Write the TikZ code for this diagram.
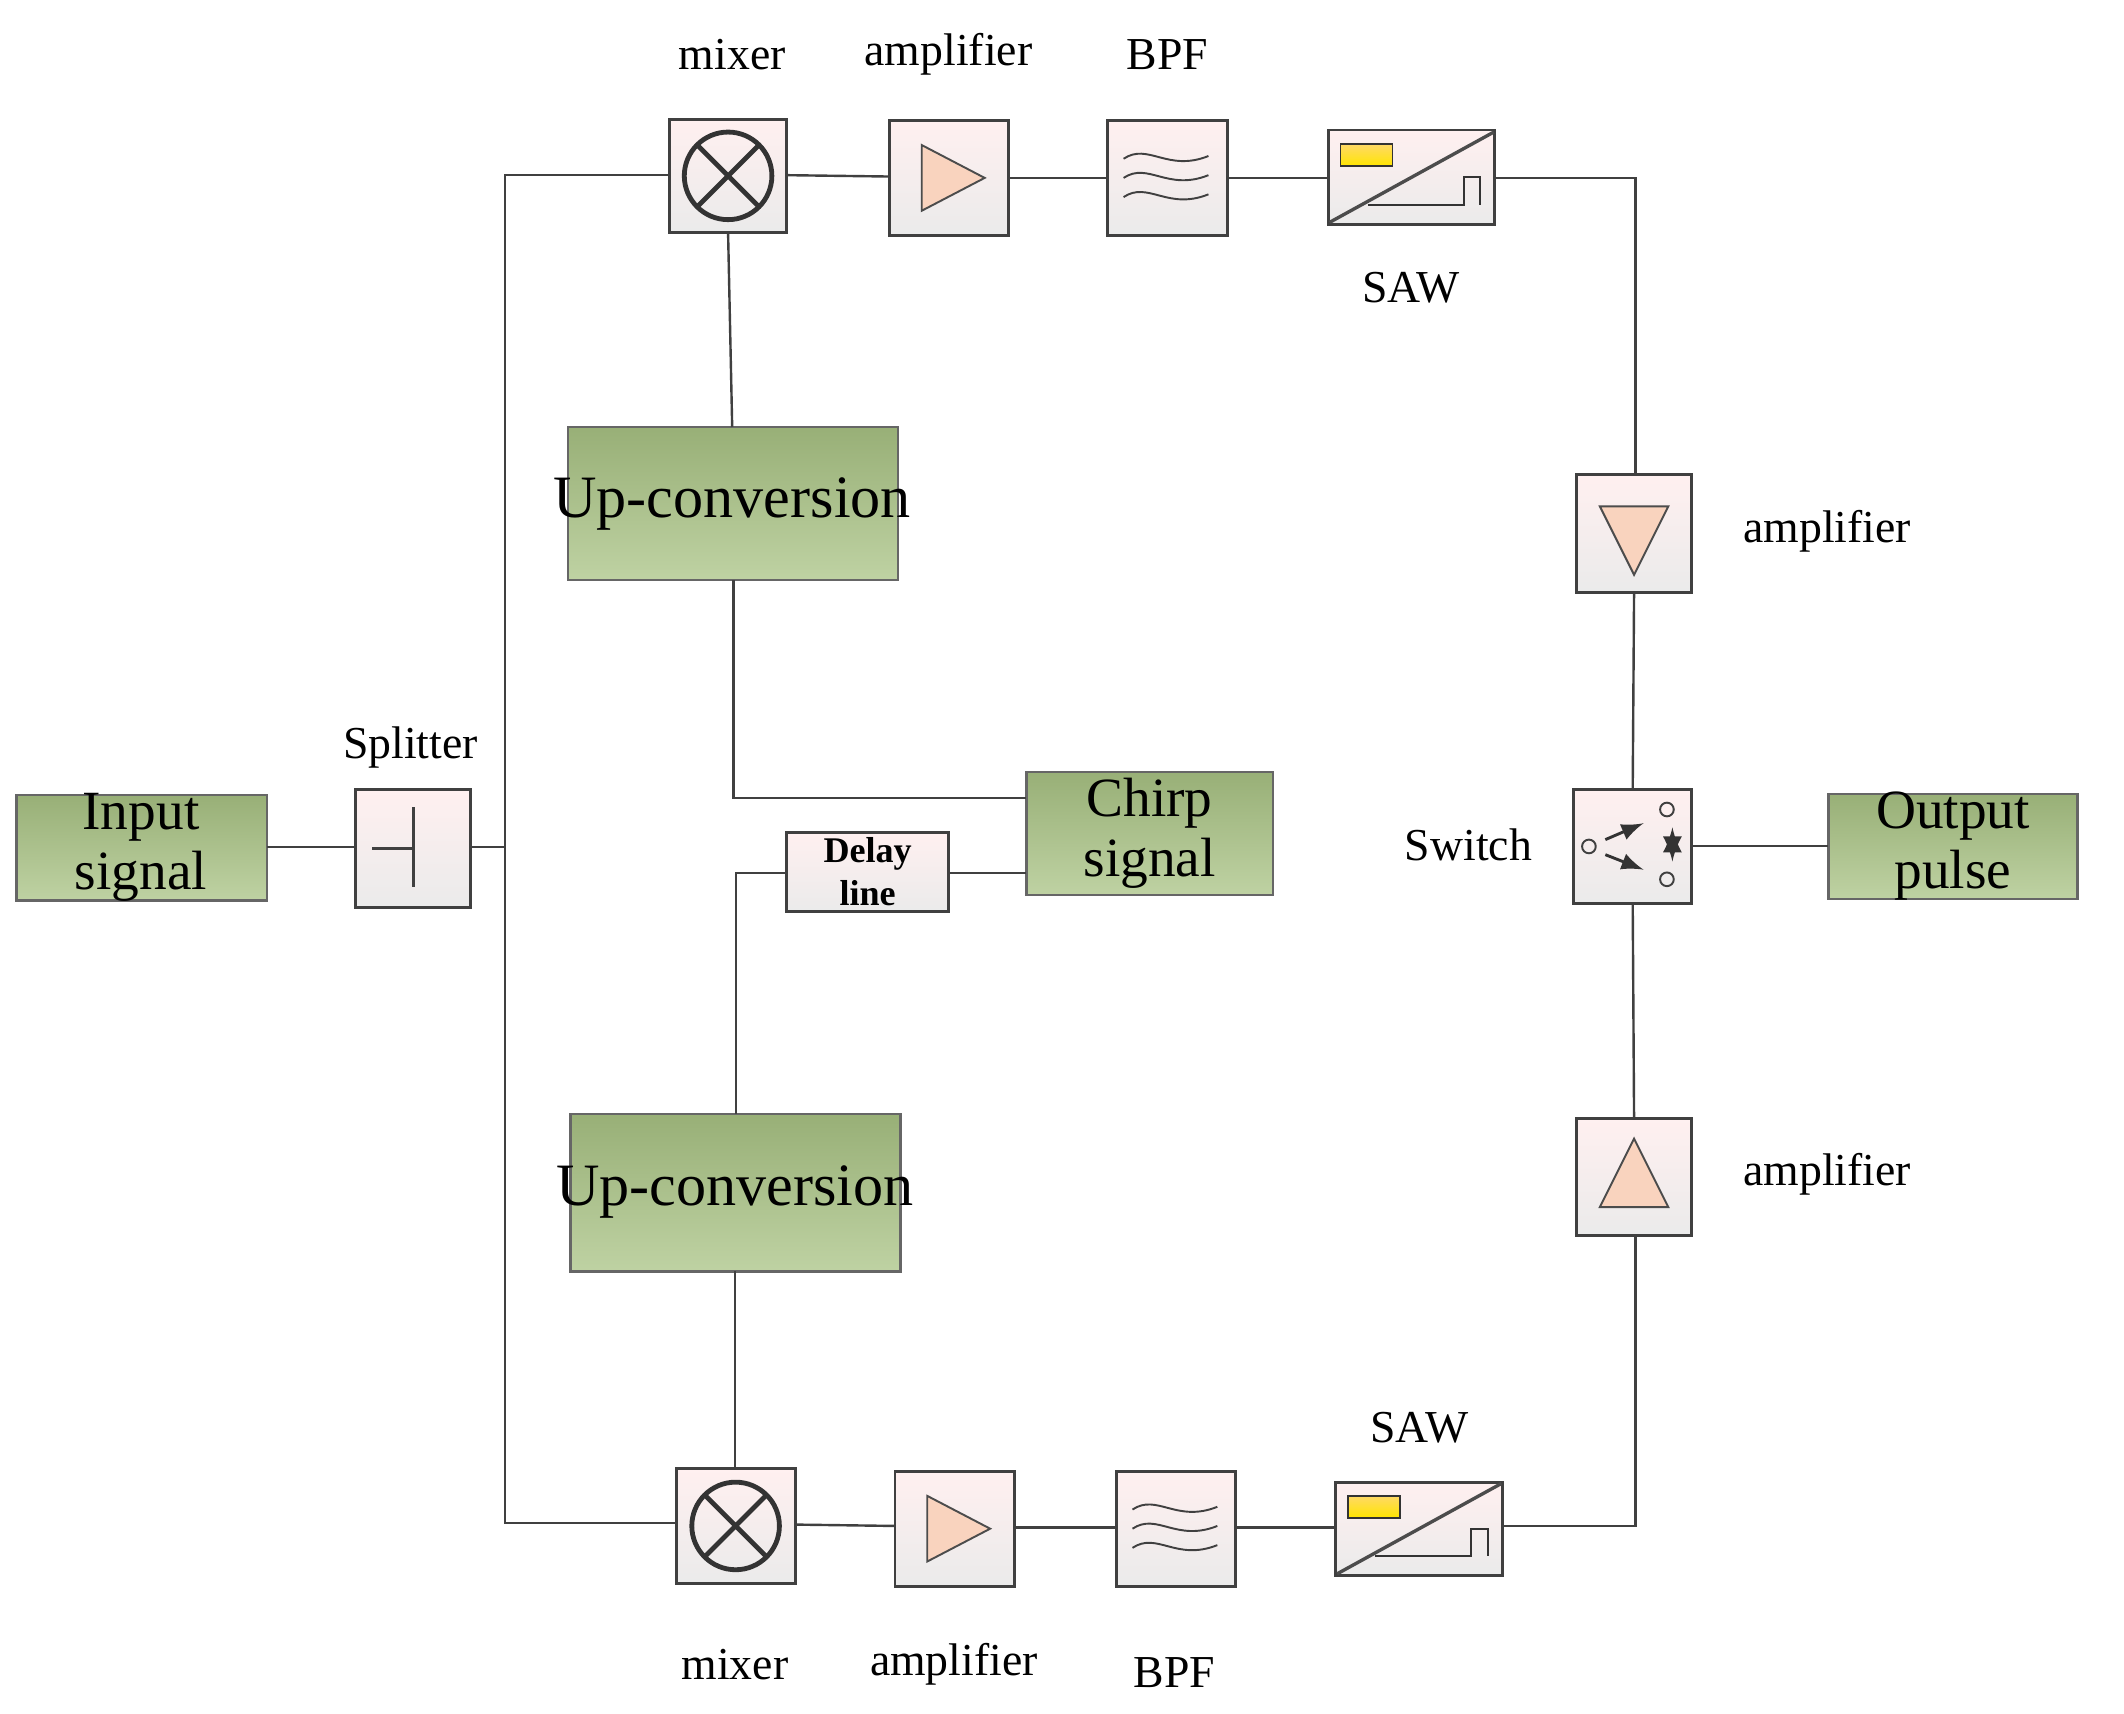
\documentclass[tikz,border=0pt]{standalone}
\usepackage{fontspec}
\setmainfont{Liberation Serif}
\usetikzlibrary{calc}
\begin{document}
\begin{tikzpicture}[x=0.01cm,y=-0.01cm,
 comp/.style={draw=black!75,line width=0.6pt,top color=red!6!white,bottom color=black!8},
 lbl/.style={font=\fontsize{9.5}{11}\selectfont},
 ln/.style={draw=black!75,line width=0.5pt}]
\useasboundingbox (0,0) rectangle (1552,1252);
\definecolor{amp}{HTML}{F9D3BE}
\definecolor{gb}{HTML}{A9C384}
\tikzset{green/.style={draw=black!60,line width=0.5pt,top color=gb!90!black,bottom color=gb!75!white}}
% green boxes
\path[green] (12,581) rectangle (195,658);
\node[align=center,font=\fontsize{11.5}{12.5}\selectfont] (inT) at (103,619) {Input\\signal};
\path[green] (1336,580) rectangle (1518,657);
\node[align=center,font=\fontsize{11.5}{12.5}\selectfont] (out) at (1427,618) {Output\\pulse};
\path[green] (415,312) rectangle (656,424);
\node[font=\fontsize{12.5}{13}\selectfont] (up1) at (535,368) {Up-conversion};
\path[green] (417,814) rectangle (658,929);
\node[font=\fontsize{12.5}{13}\selectfont] (up2) at (537,871) {Up-conversion};
\path[green] (750,564) rectangle (930,654);
\node[align=center,font=\fontsize{11.5}{12.5}\selectfont] (chirp) at (840,609) {Chirp\\signal};
% delay
\path[comp] (575,608) rectangle (693,666);
\node[align=center,font=\bfseries\fontsize{7.5}{9}\selectfont] (delay) at (634,637) {Delay\\line};
% component boxes
\foreach \n/\a/\b/\c/\d in {spl/260/577/344/663, mx1/489/87/575/170, am1/650/88/737/172, bp1/809/88/897/172, sw1/971/95/1092/164, am3/1152/347/1236/433, sw/1150/577/1236/660, am4/1152/817/1236/903, sw2/976/1083/1098/1151, bp2/816/1075/903/1159, am2/654/1075/741/1159, mx2/494/1073/581/1157}{
  \path[comp] (\a,\b) rectangle (\c,\d);
  \coordinate (\n) at ({(\a+\c)/2},{(\b+\d)/2});
}
% splitter icon
\draw[ln] (302,590) -- (302,648) (272,620) -- (302,620);
% mixers
\foreach \m in {mx1,mx2}{
 \draw[line width=1pt,black!80] (\m) circle (32);
 \draw[line width=1pt,black!80] ($(\m)+(-22.6,-22.6)$) -- ++(45.2,45.2) ($(\m)+(-22.6,22.6)$) -- ++(45.2,-45.2);
}
% amplifiers
\foreach \m in {am1,am2}{\draw[black!70,fill=amp] ($(\m)+(-20,-24)$) -- ($(\m)+(26,0)$) -- ($(\m)+(-20,24)$) -- cycle;}
\draw[black!70,fill=amp] ($(am3)+(-25,-20)$) -- ($(am3)+(25,-20)$) -- ($(am3)+(0,30)$) -- cycle;
\draw[black!70,fill=amp] ($(am4)+(-25,22)$) -- ($(am4)+(25,22)$) -- ($(am4)+(0,-28)$) -- cycle;
% BPF
\foreach \m in {bp1,bp2}{
 \foreach \dy in {-14,0,14}{
  \draw[black!75] ($(\m)+(-32,\dy)$) .. controls ($(\m)+(-14,\dy-12)$) and ($(\m)+(0,\dy+10)$) .. ($(\m)+(30,\dy-2)$);}
}
% SAW
\foreach \m in {sw1,sw2}{
 \draw[black!70,line width=0.7pt] ($(\m)+(-60,33)$) -- ($(\m)+(60,-33)$);
 \draw[black!80,top color=yellow!50!orange!60,bottom color=yellow!80!orange] ($(\m)+(-52,-24)$) rectangle ($(\m)+(-14,-8)$);
 \draw[black!80] ($(\m)+(-32,20)$) -- ($(\m)+(38,20)$) -- ($(\m)+(38,0)$) -- ($(\m)+(50,0)$) -- ($(\m)+(50,20)$);
}
% switch
\draw[black!75] ($(sw)+(-32,0)$) circle (5) ($(sw)+(25,-27)$) circle (5) ($(sw)+(25,24)$) circle (5);
\draw[-latex,black!80,line width=0.6pt] ($(sw)+(-20,-5)$) -- ($(sw)+(8,-17)$);
\draw[-latex,black!80,line width=0.6pt] ($(sw)+(-20,6)$) -- ($(sw)+(8,17)$);
\draw[latex-latex,black!80,line width=0.8pt] ($(sw)+(29,-14)$) -- ($(sw)+(29,11)$);
% labels
\node[lbl] at (300,546) {Splitter};
\node[lbl] at (535,40) {mixer};
\node[lbl] at (693,40) {amplifier};
\node[lbl] at (853,40) {BPF};
\node[lbl] at (1031,210) {SAW};
\node[lbl] at (1335,388) {amplifier};
\node[lbl] at (1073,617) {Switch};
\node[lbl] at (1335,858) {amplifier};
\node[lbl] at (1037,1043) {SAW};
\node[lbl] at (858,1222) {BPF};
\node[lbl] at (697,1216) {amplifier};
\node[lbl] at (537,1216) {mixer};
% connectors
\draw[ln] (195,619) -- (260,619);
\draw[ln] (344,619) -- (369,619);
\draw[ln] (489,128) -- (369,128) -- (369,1113) -- (494,1113);
\draw[ln] (575,128) -- (650,129);
\draw[ln] (737,130) -- (809,130);
\draw[ln] (897,130) -- (971,130);
\draw[ln] (1092,130) -- (1195,130) -- (1195,347);
\draw[ln] (1194,433) -- (1193,577);
\draw[ln] (1236,618) -- (1336,618);
\draw[ln] (1193,660) -- (1194,817);
\draw[ln] (1195,903) -- (1195,1115) -- (1098,1115);
\draw[ln] (976,1116) -- (903,1116);
\draw[ln] (816,1116) -- (741,1116);
\draw[ln] (654,1115) -- (581,1114);
\draw[ln] (532,170) -- (535,312);
\draw[ln] (536,424) -- (536,583) -- (750,583);
\draw[ln] (750,638) -- (693,638);
\draw[ln] (575,638) -- (538,638) -- (538,814);
\draw[ln] (537,929) -- (537,1073);
\end{tikzpicture}
\end{document}
